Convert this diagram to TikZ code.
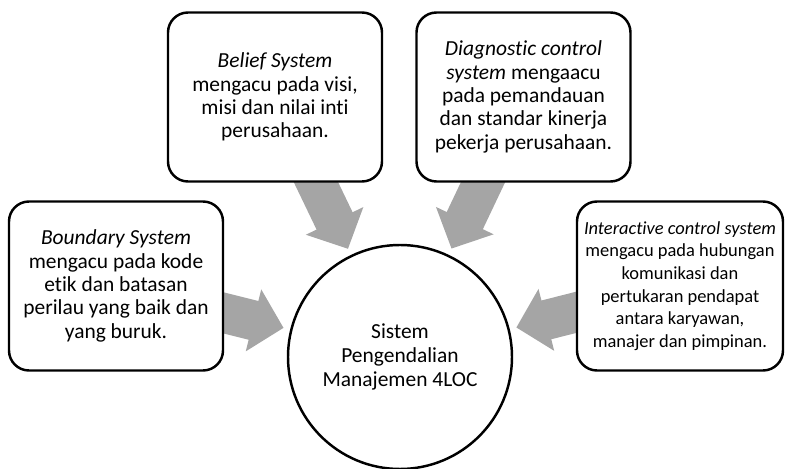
\documentclass[tikz,border=0pt]{standalone}
\usepackage{fontspec}
\setmainfont{Carlito}[Ligatures=NoCommon]
\usetikzlibrary{arrows.meta}
\definecolor{arrowGray}{HTML}{A5A5A5}
\pgfdeclarelayer{background}
\pgfsetlayers{background,main}
\tikzset{
  sysBox/.style={%
    draw, fill=white, line width=1.4pt, rounded corners=0.4cm,
    minimum width=4.28cm, minimum height=3.38cm, align=center,
    inner sep=2pt, font=\fontsize{12.2}{13.3}\selectfont,
  },
  hubNode/.style={%
    circle, draw, fill=white, line width=1.4pt, minimum size=4.48cm,
    align=center, font=\fontsize{12.2}{13.5}\selectfont,
  },
  bigArrow/.style={%
    draw=arrowGray, line width=0.8cm, shorten >=2.4cm,
    -{Triangle[length=0.62cm,width=1.24cm]},
  }
}

\begin{document}
\begin{tikzpicture}
                \useasboundingbox (0,0) rectangle (15.72,9.38);
                \node[hubNode]
                  (hub) at (8.0,2.24) {Sistem\\Pengendalian\\Manajemen 4LOC};
                \node[sysBox]
                  (boundary) at (2.32,3.66) {\textit{Boundary System}\\mengacu pada kode\\etik dan batasan\\perilau yang baik dan\\yang buruk.};
                \node[sysBox]
                  (belief) at (5.50,7.44) {\textit{Belief System}\\mengacu pada visi,\\misi dan nilai inti\\perusahaan.};
                \node[sysBox]
                  (diagnostic) at (10.47,7.44) {\textit{Diagnostic control}\\\textit{system} mengaacu\\pada pemandauan\\dan standar kinerja\\pekerja perusahaan.};
                \node[sysBox, minimum width=4.12cm, font=\fontsize{10.5}{12.9}\selectfont]
                  (interactive) at (13.60,3.66) {\textit{Interactive control system}\\mengacu pada hubungan\\komunikasi dan\\pertukaran pendapat\\antara karyawan,\\manajer dan pimpinan.};
                \begin{pgfonlayer}{background}
                \draw[bigArrow]
                  (boundary.center) -- (hub.center)
                  ;
                \draw[bigArrow]
                  (belief.center) -- (hub.center)
                  ;
                \draw[bigArrow]
                  (diagnostic.center) -- (hub.center)
                  ;
                \draw[bigArrow]
                  (interactive.center) -- (hub.center)
                  ;
                \end{pgfonlayer}
              \end{tikzpicture}
\end{document}
